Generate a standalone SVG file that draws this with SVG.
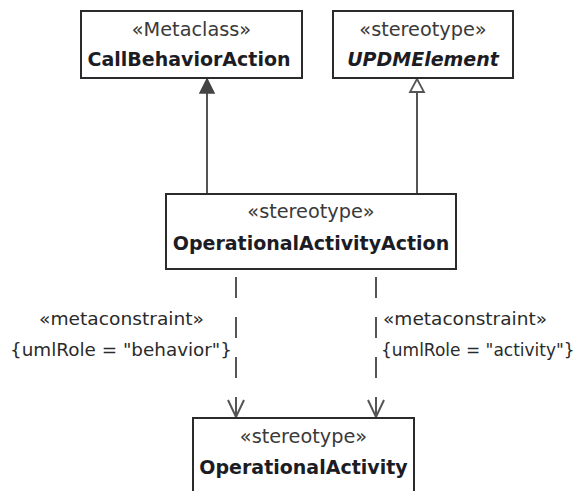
<svg xmlns="http://www.w3.org/2000/svg" width="583" height="491" viewBox="0 0 583 491">
<style>
.box{fill:#fff;stroke:#2b2b2b;stroke-width:2}
.st{font-family:"DejaVu Sans",Verdana,sans-serif;font-size:19.3px;fill:#3a3a3a;text-anchor:middle}
.nm{font-family:"DejaVu Sans",Verdana,sans-serif;font-size:19px;font-weight:bold;fill:#1c1c24;text-anchor:middle}
.lb{font-family:"DejaVu Sans",Verdana,sans-serif;font-size:18px;fill:#2a2a2a}
.ln{stroke:#555;stroke-width:2;fill:none}
.dash{stroke:#555;stroke-width:2;fill:none;stroke-dasharray:21 19}
</style>
<rect width="583" height="491" fill="#fff"/>
<g id="connectors">
<line class="ln" x1="207" y1="194" x2="207" y2="92"/>
<polygon points="207,79 200,93 214,93" fill="#444" stroke="#444" stroke-width="1.5"/>
<line class="ln" x1="417" y1="194" x2="417" y2="92"/>
<polygon points="417,79 410,92 424,92" fill="#fff" stroke="#555" stroke-width="1.8"/>
<line class="dash" x1="236" y1="277" x2="236" y2="417"/>
<polyline class="ln" points="228,400 236,417 244,400"/>
<line class="dash" x1="376" y1="277" x2="376" y2="417"/>
<polyline class="ln" points="368,400 376,417 384,400"/>
<text class="lb" x="39" y="325" textLength="165" lengthAdjust="spacingAndGlyphs">«metaconstraint»</text>
<text class="lb" x="10" y="356" textLength="222" lengthAdjust="spacingAndGlyphs">{umlRole = "behavior"}</text>
<text class="lb" x="383" y="325" textLength="164" lengthAdjust="spacingAndGlyphs">«metaconstraint»</text>
<text class="lb" x="381" y="356" style="font-size:17px">{umlRole = "activity"}</text>
</g>
<g id="CallBehaviorAction">
<rect class="box" x="81" y="11" width="221" height="67"/>
<text class="st" x="191.5" y="36">«Metaclass»</text>
<text class="nm" x="189" y="66">CallBehaviorAction</text>
</g>
<g id="UPDMElement">
<rect class="box" x="333" y="11" width="180" height="67"/>
<text class="st" x="423" y="36">«stereotype»</text>
<text class="nm" x="423" y="66" font-style="italic">UPDMElement</text>
</g>
<g id="OperationalActivityAction">
<rect class="box" x="166" y="194" width="290" height="75"/>
<text class="st" x="311" y="218">«stereotype»</text>
<text class="nm" x="311" y="250">OperationalActivityAction</text>
</g>
<g id="OperationalActivity">
<rect class="box" x="193" y="418" width="221" height="80"/>
<text class="st" x="303.5" y="443">«stereotype»</text>
<text class="nm" x="303.5" y="474">OperationalActivity</text>
</g>
</svg>
